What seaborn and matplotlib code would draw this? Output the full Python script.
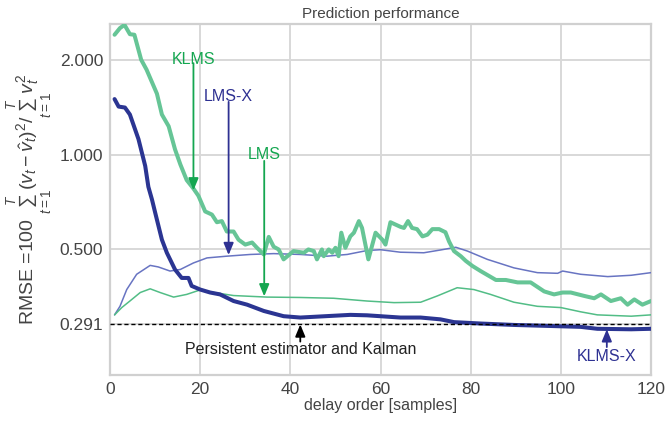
import numpy as np
import pandas as pd
import matplotlib
matplotlib.use("Agg")
import matplotlib.pyplot as plt
import seaborn as sns

# ---- data ----
klms_x = [1, 2.2, 3.2, 4.4, 5.4, 6.9, 8.1, 10.4, 11.5, 13, 14.4, 15.6, 17, 18.5, 19.6, 21.1, 22.6, 23.7,
          24.8, 25.9, 27.4, 28.5, 30, 31.5, 32.6, 34.1, 35.2, 36.3, 37.4, 38.5, 40.7, 43, 44, 45.2,
          45.9, 47, 47.4, 48.5, 49.3, 50, 50.7, 51.3, 52.2, 53.3, 54.1, 55.2, 55.9, 57.3, 58.9, 60.4,
          61.1, 62.2, 64.4, 65.2, 66.1, 67, 68.1, 69.3, 70.4, 71.5, 73, 74.4, 75.2, 76.3, 77.8, 78.9,
          80.4, 82.2, 85.6, 87.8, 90.4, 93.3, 96.3, 98.5, 100.4, 102.2, 105.2, 107.4, 108.9, 111.1,
          113.3, 114.8, 116.3, 118.1, 120]
klms_y = [2.4, 2.52, 2.58, 2.41, 2.4, 2.0, 1.86, 1.56, 1.34, 1.23, 1.04, 0.93, 0.83, 0.78, 0.74, 0.66,
          0.645, 0.61, 0.615, 0.57, 0.57, 0.537, 0.518, 0.526, 0.506, 0.482, 0.548, 0.51, 0.5, 0.465,
          0.494, 0.488, 0.5, 0.494, 0.465, 0.5, 0.476, 0.5, 0.488, 0.506, 0.476, 0.565, 0.506, 0.55,
          0.565, 0.615, 0.585, 0.465, 0.565, 0.537, 0.518, 0.61, 0.59, 0.585, 0.615, 0.585, 0.58, 0.55,
          0.557, 0.58, 0.58, 0.567, 0.53, 0.494, 0.476, 0.46, 0.443, 0.427, 0.40, 0.40, 0.393, 0.393,
          0.368, 0.36, 0.365, 0.365, 0.356, 0.35, 0.36, 0.343, 0.35, 0.334, 0.347, 0.334, 0.343]

klmsx_x = [1, 1.9, 3.3, 4.4, 6.3, 7.8, 8.5, 9.3, 10, 11.5, 12.6, 14.4, 15.9, 17.4, 18.1, 20, 22.2, 24.4,
           27.4, 30.4, 34.1, 38.5, 42.2, 45.9, 53.3, 57, 64.4, 68.9, 73.3, 76.3, 82.2, 89.6, 97, 104.4,
           108.1, 115.6, 120]
klmsx_y = [1.50, 1.42, 1.41, 1.34, 1.12, 0.92, 0.79, 0.72, 0.655, 0.537, 0.488, 0.432, 0.406, 0.406,
           0.383, 0.373, 0.365, 0.36, 0.343, 0.334, 0.319, 0.307, 0.304, 0.306, 0.31, 0.309, 0.304,
           0.304, 0.30, 0.294, 0.291, 0.288, 0.286, 0.284, 0.28, 0.279, 0.28]

lmsx_x = [1, 2.2, 3.7, 5.9, 8.9, 10.7, 13.3, 15.6, 18.5, 21.5, 25.9, 31.1, 36.3, 42.2, 48.1, 52.6, 57,
          60, 64.4, 69.6, 73.3, 76.7, 79.3, 83.7, 89.6, 94.8, 99.3, 100.4, 104.4, 110.4, 115.6, 120]
lmsx_y = [0.31, 0.33, 0.373, 0.417, 0.445, 0.44, 0.427, 0.432, 0.453, 0.47, 0.476, 0.482, 0.485, 0.482,
          0.476, 0.482, 0.496, 0.499, 0.49, 0.488, 0.498, 0.508, 0.494, 0.465, 0.437, 0.422, 0.42,
          0.427, 0.417, 0.41, 0.414, 0.422]

lms_x = [1, 2.6, 4.4, 6.7, 8.9, 11.1, 14.1, 17, 20, 23, 27.4, 34.8, 42.2, 49.6, 57, 63, 68.9, 72.6, 77,
         80.7, 84.4, 89.6, 94.8, 100, 104.4, 108.1, 115.6, 120]
lms_y = [0.31, 0.327, 0.343, 0.365, 0.375, 0.365, 0.353, 0.36, 0.372, 0.365, 0.357, 0.353, 0.352, 0.35,
         0.343, 0.339, 0.34, 0.356, 0.378, 0.373, 0.36, 0.34, 0.33, 0.327, 0.317, 0.31, 0.307, 0.31]

baseline = 0.291
y_ticks = [0.291, 0.5, 1.0, 2.0]
y_ticklabels = ["0.291", "0.500", "1.000", "2.000"]
x_ticks = [0, 20, 40, 60, 80, 100, 120]

# ---- style ----
sns.set_theme(style="whitegrid")
plt.rcParams["font.family"] = ["Liberation Sans", "DejaVu Sans"]
plt.rcParams["mathtext.fontset"] = "custom"
plt.rcParams["mathtext.rm"] = "Liberation Sans"
plt.rcParams["mathtext.it"] = "Liberation Sans:italic"
plt.rcParams["mathtext.bf"] = "Liberation Sans:bold"

c_klms = "#66c596"
c_lms = "#52bd86"
c_lmsx = "#6874c2"
c_klmsx = "#2b3592"
t_green = "#14a650"
t_blue = "#2e3192"
gray_txt = "#444444"

fig, ax = plt.subplots(figsize=(6.67, 4.25), dpi=100)
fig.subplots_adjust(left=0.165, right=0.976, top=0.944, bottom=0.118)

sns.lineplot(x=lmsx_x, y=lmsx_y, ax=ax, color=c_lmsx, lw=1.1, zorder=3)
sns.lineplot(x=lms_x, y=lms_y, ax=ax, color=c_lms, lw=1.1, zorder=3)
sns.lineplot(x=klms_x, y=klms_y, ax=ax, color=c_klms, lw=2.9, zorder=4)
sns.lineplot(x=klmsx_x, y=klmsx_y, ax=ax, color=c_klmsx, lw=2.9, zorder=5)
ax.axhline(baseline, color="black", ls="--", lw=1.0, dashes=(3, 2), zorder=6)

ax.set_yscale("log")
ax.set_xlim(0, 120)
ax.set_ylim(0.2, 2.6)
ax.set_yticks(y_ticks)
ax.set_yticklabels(y_ticklabels)
ax.yaxis.set_minor_locator(matplotlib.ticker.NullLocator())
ax.set_xticks(x_ticks)
ax.tick_params(axis="both", labelsize=12.5, colors=gray_txt, length=0, pad=5)

ax.grid(True, color="#d8d8d8", lw=1.4)
for s in ax.spines.values():
    s.set_color("#d0d0d0")
    s.set_linewidth(1.6)

ax.set_title("Prediction performance", fontsize=11, color=gray_txt, pad=4)
ax.set_xlabel("delay order [samples]", fontsize=11.5, color=gray_txt, labelpad=1)
ax.set_ylabel(r"RMSE =100 $\sum_{t=1}^{T}(v_t-\hat{v}_t)^2/\sum_{t=1}^{T}v_t^2$",
              fontsize=14, color=gray_txt, labelpad=3)

AP = "-|>,head_length=0.6,head_width=0.25"

def arrow(xy, xytext, color):
    ax.annotate("", xy=xy, xytext=xytext,
                arrowprops=dict(arrowstyle=AP, color=color, lw=1.3, shrinkA=0, shrinkB=0),
                zorder=8)

# KLMS
arrow((18.5, 0.77), (18.5, 1.95), t_green)
ax.text(18.5, 2.0, "KLMS", color=t_green, fontsize=11.5, ha="center", va="center")
# LMS-X
arrow((26.3, 0.48), (26.3, 1.47), t_blue)
ax.text(26.3, 1.53, "LMS-X", color=t_blue, fontsize=11.5, ha="center", va="center")
# LMS
arrow((34.2, 0.355), (34.2, 0.955), t_green)
ax.text(34.2, 1.0, "LMS", color=t_green, fontsize=11.5, ha="center", va="center")
# Persistent estimator and Kalman
arrow((42.2, 0.289), (42.2, 0.255), "black")
ax.text(42.2, 0.241, "Persistent estimator and Kalman", color="#222222", fontsize=11.5,
        ha="center", va="center")
# KLMS-X
arrow((110.2, 0.279), (110.2, 0.245), t_blue)
ax.text(110.2, 0.228, "KLMS-X", color=t_blue, fontsize=11.5, ha="center", va="center")

fig.savefig("out.png", dpi=100)
